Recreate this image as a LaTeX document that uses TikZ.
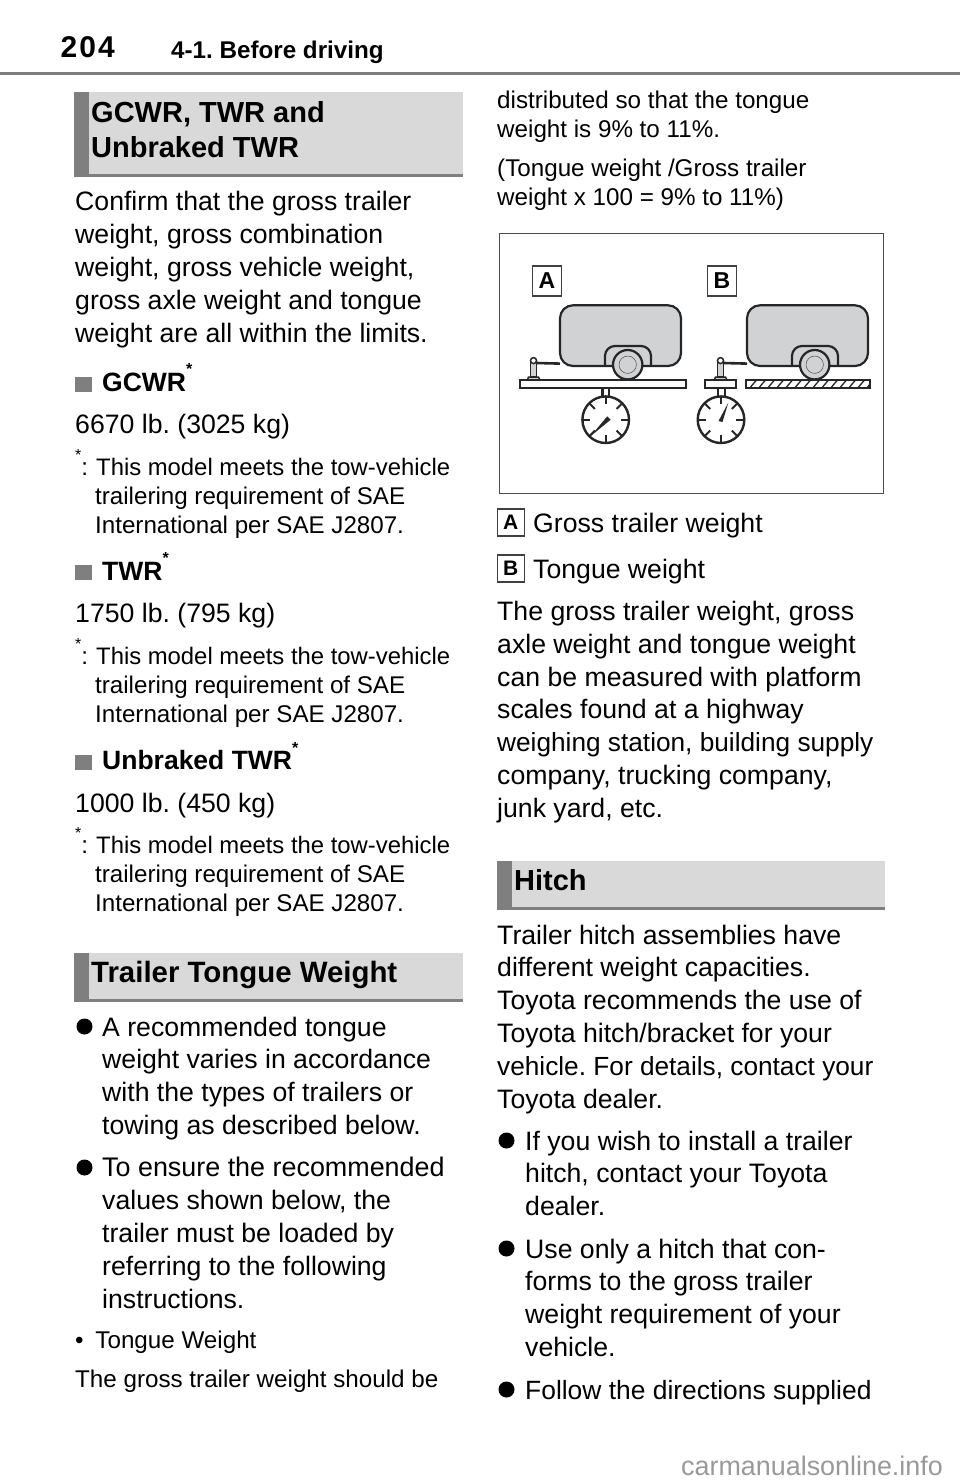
\documentclass[tikz,border=0pt]{standalone}
\usepackage{fontspec}
\setmainfont{Liberation Sans}
\frenchspacing

\definecolor{rulegray}{HTML}{7F7F7F}
\definecolor{bandgray}{HTML}{D9D9D9}
\definecolor{bodygray}{HTML}{D1D2D3}

\tikzset{
  bodytext/.style={anchor=base west,inner sep=0pt,align=left,font=\fontsize{26.65}{32.8}\selectfont},
  smalltext/.style={anchor=base west,inner sep=0pt,align=left,font=\fontsize{24.2}{29}\selectfont},
  notetext/.style={anchor=base west,inner sep=0pt,align=left,font=\fontsize{24.15}{29}\selectfont},
  headtext/.style={anchor=base west,inner sep=0pt,align=left,font=\fontsize{29}{35}\selectfont\bfseries},
  subhead/.style={anchor=base west,inner sep=0pt,font=\fontsize{26.5}{30}\selectfont\bfseries},
  bulletmark/.style={circle,fill=black,inner sep=0pt,minimum size=16pt},
  squaremark/.style={rectangle,fill=rulegray,inner sep=0pt,minimum width=16.5pt,minimum height=15pt},
  badge/.style={draw=black!75,line width=1.4pt,fill=white,inner sep=0pt,font=\fontsize{21}{21}\selectfont\bfseries,minimum width=27pt,minimum height=27pt},
  tagbadge/.style={badge,minimum width=29.5pt,minimum height=30pt,font=\fontsize{23}{23}\selectfont\bfseries},
  tline/.style={line width=2.2pt,black!85},
  jackline/.style={line width=1.5pt,black!85},
  gaugeline/.style={line width=2.4pt,black!85,fill=white},
  gaugetick/.style={line width=2pt,black!85}
}

\newcommand{\bandbox}[4]{%
  \fill[bandgray] (#1,#2) rectangle (#3,#4);
  \fill[rulegray] (#1,#2) rectangle (#1+14.7,#4);
  \fill[rulegray] (#1,#4-2.6) rectangle (#3,#4);
}
\newcommand{\upstar}{\raisebox{.62em}{\fontsize{16}{16}\selectfont *}}
\newcommand{\tuned}[2]{{\fontsize{#1}{32.8}\selectfont #2}}
\newcommand{\notelines}{{\fontsize{23.85}{29}\selectfont\hspace*{1pt}This model meets the tow-vehicle}\\trailering requirement of SAE\\International per SAE J2807.}

\begin{document}
\begin{tikzpicture}[x=1pt,y=-1pt]
\useasboundingbox (0,0) rectangle (960,1484);

% page head
\node[anchor=base west,inner sep=0pt,font=\fontsize{30}{30}\selectfont\bfseries] (pageno) at (60.5,57) {2\kern2pt0\kern2pt4};
\node[anchor=base west,inner sep=0pt,font=\fontsize{24.2}{30}\selectfont\bfseries] (chapter) at (171,58) {4-1. Before driving};
\fill[rulegray] (0,71.5) rectangle (960,75);

% left column
\bandbox{74}{92.3}{463}{177}
\node[headtext] (headA) at (91,157) {GCWR, TWR and\\Unbraked TWR};
\node[bodytext] (intro) at (75,342) {Confirm that the gross trailer\\weight, gross combination\\weight, gross vehicle weight,\\gross axle weight and tongue\\weight are all within the limits.};

\node[squaremark] (sqA) at (83.3,384) {};
\node[subhead] (gcwr) at (102,391) {GCWR\upstar};
\node[bodytext] (gcwrval) at (75,433.5) {6670 lb. (3025 kg)};
\node[notetext] (noteAstar) at (75,475) {\upstar:};
\node[notetext] (noteA) at (95,533) {\notelines};

\node[squaremark] (sqB) at (83.3,572.5) {};
\node[subhead] (twr) at (102,580) {TWR\upstar};
\node[bodytext] (twrval) at (75,622.5) {1750 lb. (795 kg)};
\node[notetext] (noteBstar) at (75,664) {\upstar:};
\node[notetext] (noteB) at (95,722) {\notelines};

\node[squaremark] (sqC) at (83.3,762) {};
\node[subhead] (unbraked) at (102,769.5) {Unbraked TWR\upstar};
\node[bodytext] (unbrakedval) at (75,812) {1000 lb. (450 kg)};
\node[notetext] (noteCstar) at (75,853) {\upstar:};
\node[notetext] (noteC) at (95,911) {\notelines};

\bandbox{74}{953}{463}{1002}
\node[headtext,font=\fontsize{29.4}{35}\selectfont\bfseries] (headB) at (91,982) {Trailer Tongue Weight};

\node[bulletmark] (dotA) at (84.5,1026.5) {};
\node[bodytext] (recomm) at (102,1134.4) {A recommended tongue\\weight varies in accordance\\with the types of trailers or\\towing as described below.};
\node[bulletmark] (dotB) at (84.5,1167.5) {};
\node[bodytext] (ensure) at (102,1308) {\tuned{26.9}{To ensure the recommended}\\values shown below, the\\trailer must be loaded by\\referring to the following\\instructions.};
\node[smalltext] (tongue) at (75,1348) {\textbullet\hspace{11.8pt}Tongue Weight};
\node[smalltext] (gross) at (75,1387) {The gross trailer weight should be};

% right column
\node[smalltext] (distrib) at (497,137) {distributed so that the tongue\\weight is 9\% to 11\%.};
\node[smalltext] (formula) at (497,205) {(Tongue weight /Gross trailer\\weight x 100 = 9\% to 11\%)};

\draw[line width=1.3pt,black!70] (499.5,233.5) rectangle (883.5,493.5);
\node[tagbadge] (tagA) at (547,281) {A};
\node[tagbadge] (tagB) at (722,281) {B};

% trailer A
\draw[tline,fill=bodygray,rounded corners=13pt] (560,366) -- (560,305.3) -- (681,305.3) -- (681,366) -- cycle;
\draw[tline,rounded corners=10pt] (605,366) -- (605,346) -- (651,346) -- (651,366);
\draw[tline,fill=bodygray] (627.7,364.7) circle (14.7);
\draw[line width=.5pt,black!70] (627.7,364.7) circle (8.7);
\draw[line width=2.6pt,black!85] (536.7,363) -- (560,363.6);
\draw[jackline,fill=bodygray] (530.3,377) -- (530.3,361.5) -- (536.7,361.5) -- (536.7,377) -- cycle;
\draw[jackline,fill=white] (533.5,360.6) circle (3);
\draw[jackline,fill=bodygray] (527.3,380) -- (528.5,377) -- (538.5,377) -- (540,380) -- cycle;
\draw[tline,fill=white] (520.3,380) rectangle (685.7,387.7);
\draw[tline] (602.5,387.7) -- (602.5,396.7) (609,387.7) -- (609,396.7);
\draw[gaugeline] (605.7,419.7) circle (23.3);
\foreach \ang in {0,45,...,315} {
  \draw[gaugetick] (605.7,419.7) ++(\ang:23.3) -- ++(\ang:-8);
}
\fill[black!85] (607.3,416.3) -- (610.7,419.7) -- (590.7,436) -- cycle;

% trailer B
\draw[tline,fill=bodygray,rounded corners=13pt] (747,366) -- (747,305.3) -- (868,305.3) -- (868,366) -- cycle;
\draw[tline,rounded corners=10pt] (792,366) -- (792,346) -- (838,346) -- (838,366);
\draw[tline,fill=bodygray] (814.7,364.7) circle (14.7);
\draw[line width=.5pt,black!70] (814.7,364.7) circle (8.7);
\draw[line width=2.6pt,black!85] (723.7,363) -- (747,363.6);
\draw[jackline,fill=bodygray] (717.3,377) -- (717.3,361.5) -- (723.7,361.5) -- (723.7,377) -- cycle;
\draw[jackline,fill=white] (720.5,360.6) circle (3);
\draw[jackline,fill=bodygray] (714.3,380) -- (715.5,377) -- (725.5,377) -- (727,380) -- cycle;
\draw[tline,fill=white] (705,380) rectangle (736.3,387.7);
\draw[tline,fill=white] (745.7,380) rectangle (870.3,387.7);
\begin{scope}
  \clip (745.7,380) rectangle (870.3,387.7);
  \foreach \hx in {750,759,...,876} {
    \draw[line width=1.3pt,black!85] (\hx,387.7) -- (\hx+6.5,380);
  }
\end{scope}
\draw[tline] (718.3,387.7) -- (718.3,396.7) (725,387.7) -- (725,396.7);
\draw[gaugeline] (721,419.7) circle (23.3);
\foreach \ang in {0,45,...,315} {
  \draw[gaugetick] (721,419.7) ++(\ang:23.3) -- ++(\ang:-8);
}
\fill[black!85] (718.5,421) -- (722.5,422) -- (728.3,402.7) -- cycle;

\node[badge] (keyA) at (510.8,522.4) {A};
\node[bodytext] (keyAtext) at (533,532) {Gross trailer weight};
\node[badge] (keyB) at (510.8,568.4) {B};
\node[bodytext] (keyBtext) at (533,578) {Tongue weight};
\node[bodytext] (scales) at (497,817.3) {The gross trailer weight, gross\\axle weight and tongue weight\\can be measured with platform\\scales found at a highway\\\tuned{26.23}{weighing station, building supply}\\company, trucking company,\\junk yard, etc.};

\bandbox{497}{861}{885}{910}
\node[headtext] (headC) at (514,890) {Hitch};
\node[bodytext] (hitch) at (497,1108) {Trailer hitch assemblies have\\different weight capacities.\\Toyota recommends the use of\\Toyota hitch/bracket for your\\\tuned{26.23}{vehicle. For details, contact your}\\Toyota dealer.};
\node[bulletmark] (dotC) at (506.5,1140.5) {};
\node[bodytext] (install) at (525,1215.6) {If you wish to install a trailer\\hitch, contact your Toyota\\dealer.};
\node[bulletmark] (dotD) at (506.5,1248.5) {};
\node[bodytext] (conform) at (525,1356.4) {Use only a hitch that con-\\forms to the gross trailer\\weight requirement of your\\vehicle.};
\node[bulletmark] (dotE) at (506.5,1389.5) {};
\node[bodytext] (follow) at (525,1399) {\tuned{26.4}{Follow the directions supplied}};

\node[anchor=base west,inner sep=0pt,text=black!40,font=\fontsize{26.9}{27}\selectfont] (mark) at (681,1475) {carmanualsonline.info};
\end{tikzpicture}
\end{document}
